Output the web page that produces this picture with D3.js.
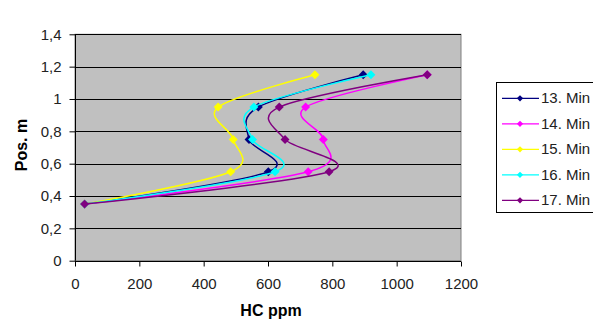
<!DOCTYPE html>
<html><head><meta charset="utf-8">
<script src="https://cdn.jsdelivr.net/npm/d3@7"></script>
<style>body{margin:0;background:#fff}svg{display:block}text{font-family:"Liberation Sans",Arial,sans-serif}</style>
</head><body><svg id="c" width="593" height="323"></svg>
<script>
const positions = [0.35, 0.55, 0.75, 0.95, 1.15];
const seriesNames = ["13. Min", "14. Min", "15. Min", "16. Min", "17. Min"];
const seriesColors = ["#000080", "#FF00FF", "#FFFF00", "#00FFFF", "#800080"];
const min13 = [30, 601, 541, 570, 896];
const min14 = [30, 725, 772, 717, 1095];
const min15 = [30, 484, 492, 445, 746];
const min16 = [30, 622, 552, 556, 920];
const min17 = [30, 790, 653, 635, 1095];
const seriesValues = [min13, min14, min15, min16, min17];
const xTicks = [0, 200, 400, 600, 800, 1000, 1200];
const yTicks = [0, 0.2, 0.4, 0.6, 0.8, 1.0, 1.2, 1.4];

const svg = d3.select("#c");
const L = 75, R = 461, T = 34.3, B = 260.7;
const x = d3.scaleLinear().domain([0, 1200]).range([L, R]);
const y = d3.scaleLinear().domain([0, 1.4]).range([B, T]);

svg.append("rect").attr("x", L).attr("y", T).attr("width", R - L).attr("height", B - T)
  .attr("fill", "#C0C0C0").attr("stroke", "#808080").attr("stroke-width", 1);

svg.append("g").selectAll("line").data(yTicks.slice(1)).join("line")
  .attr("x1", L).attr("x2", R).attr("y1", d => Math.round(y(d)) + 0.5).attr("y2", d => Math.round(y(d)) + 0.5)
  .attr("stroke", "#000").attr("stroke-width", 1);

const fmt = d => d3.format(".1f")(d).replace(".", ",").replace(/,0$/, "");
const yAxis = svg.append("g").attr("transform", `translate(${L + 0.5},0)`)
  .call(d3.axisLeft(y).tickValues(yTicks).tickSize(6).tickPadding(8).tickFormat(fmt));
const xAxis = svg.append("g").attr("transform", `translate(0,${Math.round(B) + 0.5})`)
  .call(d3.axisBottom(x).tickValues(xTicks).tickSize(5).tickPadding(12).tickFormat(d3.format("d")));
[yAxis, xAxis].forEach(a => {
  a.selectAll("path,line").attr("stroke", "#000");
  a.selectAll("text").attr("font-size", 15).attr("fill", "#222").attr("font-family", "Liberation Sans, Arial");
});
xAxis.select("path").attr("d", `M${L},0H${R}`);
yAxis.select("path").attr("d", `M0,${B}V${T}`);

const line = d3.line().x(d => x(d[0])).y(d => y(d[1])).curve(d3.curveCatmullRom.alpha(0));
const marker = d3.symbol().type(d3.symbolSquare).size(40);
const lgMarker = d3.symbol().type(d3.symbolSquare).size(20);

seriesValues.forEach((vals, i) => {
  const pts = vals.map((v, j) => [v, positions[j]]);
  const g = svg.append("g");
  g.append("path").attr("d", line(pts)).attr("fill", "none").attr("stroke", seriesColors[i]).attr("stroke-width", 1.5);
  g.selectAll("path.m").data(pts).join("path").attr("class", "m")
    .attr("d", marker).attr("transform", d => `translate(${x(d[0])},${y(d[1])}) rotate(45)`)
    .attr("fill", seriesColors[i]);
});

svg.append("text").attr("x", 271).attr("y", 316).attr("text-anchor", "middle")
  .attr("font-size", 16).attr("font-weight", "bold").text("HC ppm");
svg.append("text").attr("transform", "translate(27,145) rotate(-90)").attr("text-anchor", "middle")
  .attr("font-size", 16).attr("font-weight", "bold").text("Pos. m");

const lg = svg.append("g");
lg.append("rect").attr("x", 496.5).attr("y", 82.5).attr("width", 120).attr("height", 130)
  .attr("fill", "#fff").attr("stroke", "#000");
seriesNames.forEach((n, i) => {
  const yy = 98.3 + i * 25.5;
  lg.append("line").attr("x1", 502).attr("x2", 539).attr("y1", yy).attr("y2", yy)
    .attr("stroke", seriesColors[i]).attr("stroke-width", 1.2);
  lg.append("path").attr("d", lgMarker).attr("transform", `translate(520,${yy}) rotate(45)`).attr("fill", seriesColors[i]);
  lg.append("text").attr("x", 541).attr("y", yy + 5).attr("font-size", 15).attr("fill", "#222").text(n);
});
</script></body></html>
